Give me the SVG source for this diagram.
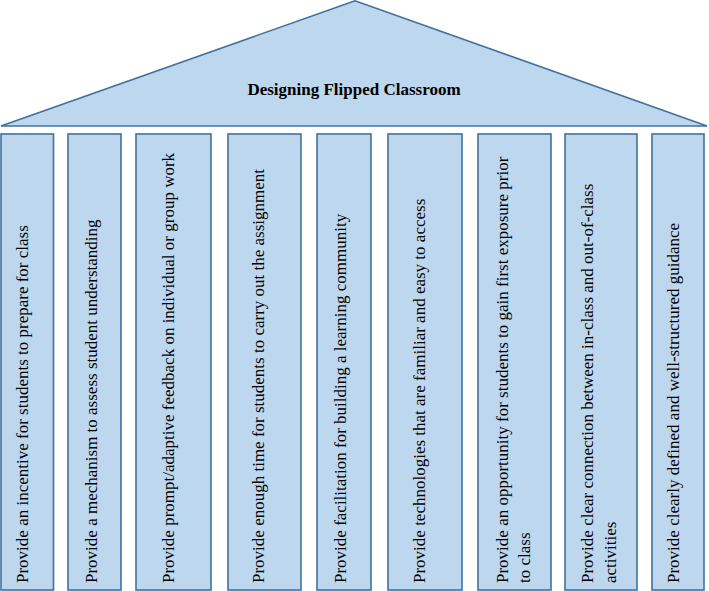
<svg xmlns="http://www.w3.org/2000/svg" width="709" height="591" viewBox="0 0 709 591">
<style>
.shape{fill:#bdd7ee;stroke:#41719c;stroke-width:1.6}
.t{font-size:17px;fill:#000}
.title{font-size:17px;font-weight:bold;fill:#000}
</style>
<rect width="709" height="591" fill="#ffffff"/>
<g id="roof" font-family="Liberation Serif, Tinos, Times New Roman, DejaVu Serif, serif">
<polygon class="shape" points="1,126 355,0.8 707,126"/>
<text class="title" x="354" y="95" text-anchor="middle">Designing Flipped Classroom</text>
</g>
<g font-family="Liberation Serif, Tinos, Times New Roman, DejaVu Serif, serif">
<g id="pillar1">
<rect class="shape" x="1" y="134" width="52.5" height="456"/>
<text class="t" transform="translate(28,583) rotate(-90)">Provide an incentive for students to prepare for class</text>
</g>
<g id="pillar2">
<rect class="shape" x="68" y="134" width="53" height="456"/>
<text class="t" transform="translate(97,583) rotate(-90)">Provide a mechanism to assess student understanding</text>
</g>
<g id="pillar3">
<rect class="shape" x="136" y="134" width="75" height="456"/>
<text class="t" transform="translate(174,583) rotate(-90)">Provide prompt/adaptive feedback on individual or group work</text>
</g>
<g id="pillar4">
<rect class="shape" x="228" y="134" width="73" height="456"/>
<text class="t" transform="translate(264,583) rotate(-90)">Provide enough time for students to carry out the assignment</text>
</g>
<g id="pillar5">
<rect class="shape" x="317" y="134" width="54" height="456"/>
<text class="t" transform="translate(346,583) rotate(-90)">Provide facilitation for building a learning community</text>
</g>
<g id="pillar6">
<rect class="shape" x="388" y="134" width="74" height="456"/>
<text class="t" transform="translate(425,583) rotate(-90)">Provide technologies that are familiar and easy to access</text>
</g>
<g id="pillar7">
<rect class="shape" x="478" y="134" width="73" height="456"/>
<text class="t" transform="translate(507.5,583) rotate(-90)">Provide an opportunity for students to gain first exposure prior</text>
<text class="t" transform="translate(529.5,583) rotate(-90)">to class</text>
</g>
<g id="pillar8">
<rect class="shape" x="565" y="134" width="72" height="456"/>
<text class="t" transform="translate(592.5,583) rotate(-90)">Provide clear connection between in-class and out-of-class</text>
<text class="t" transform="translate(616,583) rotate(-90)">activities</text>
</g>
<g id="pillar9">
<rect class="shape" x="652" y="134" width="52" height="456"/>
<text class="t" transform="translate(679,583) rotate(-90)">Provide clearly defined and well-structured guidance</text>
</g>
</g>
<g id="connectors"></g>
</svg>
